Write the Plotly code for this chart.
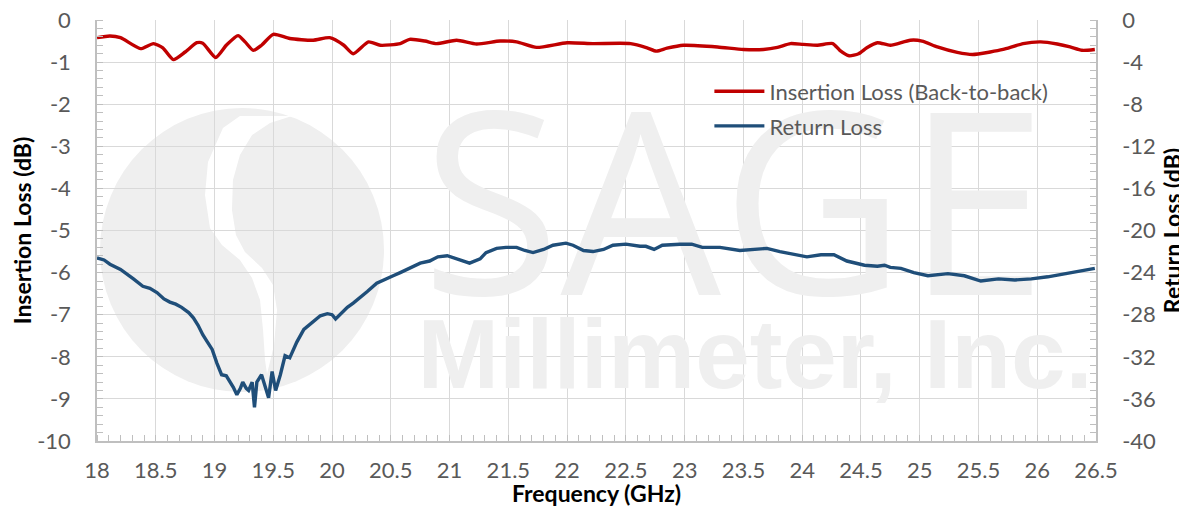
import plotly.graph_objects as go

# ---------------- data ----------------
il_freq = [18.00, 18.11, 18.20, 18.37, 18.48, 18.56, 18.65, 18.75, 18.85, 18.90,
           19.01, 19.10, 19.20, 19.26, 19.33, 19.40, 19.50, 19.64, 19.84, 19.98,
           20.10, 20.18, 20.31, 20.41, 20.58, 20.66, 20.79, 20.89, 21.06, 21.23,
           21.43, 21.57, 21.74, 22.00, 22.22, 22.54, 22.68, 22.76, 22.85, 22.99,
           23.28, 23.50, 23.67, 23.79, 23.90, 24.01, 24.13, 24.26, 24.32, 24.40,
           24.48, 24.55, 24.64, 24.75, 24.92, 25.02, 25.15, 25.32, 25.45, 25.60,
           25.71, 25.88, 26.03, 26.17, 26.28, 26.38, 26.49]
il_db = [-0.42, -0.38, -0.42, -0.68, -0.56, -0.66, -0.94, -0.76, -0.54, -0.55,
         -0.89, -0.60, -0.37, -0.52, -0.72, -0.60, -0.34, -0.44, -0.48, -0.42,
         -0.60, -0.80, -0.52, -0.60, -0.56, -0.46, -0.50, -0.56, -0.48, -0.57,
         -0.50, -0.52, -0.65, -0.54, -0.56, -0.56, -0.66, -0.74, -0.67, -0.60,
         -0.64, -0.70, -0.70, -0.65, -0.56, -0.58, -0.60, -0.56, -0.72, -0.85,
         -0.80, -0.66, -0.54, -0.60, -0.48, -0.50, -0.64, -0.77, -0.82, -0.76,
         -0.70, -0.56, -0.52, -0.57, -0.64, -0.72, -0.70]

rl_freq = [18.00, 18.06, 18.11, 18.20, 18.31, 18.39, 18.45, 18.51, 18.57, 18.62,
           18.67, 18.72, 18.78, 18.82, 18.86, 18.90, 18.94, 18.98, 19.02, 19.06,
           19.10, 19.13, 19.16, 19.19, 19.22, 19.24, 19.27, 19.29, 19.32, 19.34,
           19.36, 19.40, 19.43, 19.46, 19.49, 19.52, 19.56, 19.60, 19.64, 19.70,
           19.76, 19.80, 19.83, 19.90, 19.96, 20.00, 20.03, 20.08, 20.13, 20.18,
           20.24, 20.30, 20.38, 20.47, 20.52, 20.58, 20.64, 20.75, 20.83, 20.90,
           20.98, 21.09, 21.17, 21.26, 21.31, 21.40, 21.48, 21.57, 21.64, 21.71,
           21.80, 21.88, 21.99, 22.05, 22.14, 22.22, 22.31, 22.39, 22.50, 22.62,
           22.67, 22.74, 22.81, 22.96, 23.06, 23.15, 23.30, 23.47, 23.58, 23.70,
           23.81, 23.93, 24.04, 24.16, 24.27, 24.38, 24.53, 24.64, 24.70, 24.75,
           24.84, 24.95, 25.07, 25.24, 25.38, 25.52, 25.67, 25.81, 25.95, 26.09,
           26.24, 26.38, 26.49]
rl_db = [-22.6, -22.8, -23.2, -23.7, -24.6, -25.3, -25.5, -25.9, -26.5, -26.8,
         -27.0, -27.3, -27.8, -28.3, -29.0, -29.9, -30.6, -31.3, -32.6, -33.7,
         -33.8, -34.3, -34.9, -35.6, -35.0, -34.4, -35.0, -35.2, -34.4, -36.8,
         -34.4, -33.7, -34.8, -35.9, -33.4, -35.2, -33.7, -31.9, -32.1, -30.6,
         -29.4, -29.0, -28.8, -28.1, -27.9, -28.0, -28.4, -27.8, -27.3, -26.9,
         -26.4, -25.8, -25.0, -24.6, -24.3, -24.0, -23.7, -23.1, -22.9, -22.5,
         -22.4, -22.8, -23.1, -22.7, -22.1, -21.7, -21.6, -21.6, -21.9, -22.1,
         -21.8, -21.4, -21.2, -21.4, -21.9, -22.0, -21.8, -21.4, -21.3, -21.5,
         -21.5, -21.8, -21.4, -21.3, -21.3, -21.6, -21.6, -21.9, -21.8, -21.7,
         -22.0, -22.3, -22.5, -22.3, -22.3, -22.9, -23.3, -23.4, -23.3, -23.5,
         -23.6, -24.0, -24.3, -24.1, -24.3, -24.8, -24.6, -24.7, -24.6, -24.4,
         -24.1, -23.8, -23.6]

x_ticks = [18 + 0.5 * i for i in range(18)]
x_labels = [("%g" % v) for v in x_ticks]
y_ticks = [0, -1, -2, -3, -4, -5, -6, -7, -8, -9, -10]
y_labels = [str(v) for v in y_ticks]
y2_ticks = [0, -4, -8, -12, -16, -20, -24, -28, -32, -36, -40]
y2_labels = [str(v) for v in y2_ticks]
il_name = "Insertion Loss (Back-to-back)"
rl_name = "Return Loss"

# ---------------- figure ----------------
# the page body has an 8 px margin, so the figure is sized/offset to compensate
W, H = 1179, 499
ML, MT = 89, 12
PW, PH = 999, 421
MR, MB = W - ML - PW, H - MT - PH
OFF = 8

FONT = "Lato"
TICK_C = "#595959"
GRID_C = "#D9D9D9"
AX_C = "#BFBFBF"
WM_C = "#EFEFEF"
TS = 22   # tick / legend font size
AS = 23   # axis title size


def px2paper(px, py):
    # px, py: screen pixels of the reference picture
    return (px - OFF - ML) / PW, (MT + PH - (py - OFF)) / PH


fig = go.Figure()

# watermark text (drawn first so the curves lie on top)
fig.add_trace(go.Scatter(x=[23.42], y=[-5.02], mode="text", text=["SAGE"],
                         textfont=dict(family="Open Sans", size=254, color=WM_C, weight=400),
                         showlegend=False, hoverinfo="skip"))
fig.add_trace(go.Scatter(x=[23.6], y=[-8.17], mode="text", text=["Millimeter, Inc."],
                         textfont=dict(family="Liberation Sans", size=98, color=WM_C, weight="bold"),
                         showlegend=False, hoverinfo="skip"))

fig.add_trace(go.Scatter(x=il_freq, y=il_db, name=il_name, mode="lines",
                         line=dict(color="#C00000", width=3.4, shape="spline", smoothing=0.6),
                         legendgroup="a", yaxis="y"))
fig.add_trace(go.Scatter(x=rl_freq, y=rl_db, name=rl_name, mode="lines",
                         line=dict(color="#1F4E79", width=3.4), legendgroup="b",
                         yaxis="y2"))

# watermark logo (shapes below the grid)
cx0, cy0 = px2paper(100, 392)
cx1, cy1 = px2paper(384, 108)
shapes = [dict(type="circle", xref="paper", yref="paper", x0=cx0, y0=cy0, x1=cx1, y1=cy1,
               fillcolor=WM_C, line=dict(width=0), layer="below")]
band = [(240, 116), (223, 128), (208, 162), (205, 195), (210, 228), (222, 245), (240, 260),
        (252, 278), (260, 300), (263, 330), (265, 360), (267, 374),
        (274, 345), (277, 310), (273, 285), (262, 268), (245, 252), (236, 235),
        (232, 210), (233, 180), (240, 155), (252, 135), (270, 123), (292, 116)]
pts = [px2paper(a, b) for a, b in band]
path = "M " + " L ".join("%.4f,%.4f" % p for p in pts) + " Z"
shapes.append(dict(type="path", xref="paper", yref="paper", path=path,
                   fillcolor="white", line=dict(width=0), layer="below"))

fig.update_layout(
    width=W, height=H,
    margin=dict(l=ML, r=MR, t=MT, b=MB, pad=0, autoexpand=False),
    paper_bgcolor="white", plot_bgcolor="rgba(0,0,0,0)",
    font=dict(family=FONT, color=TICK_C, size=TS),
    shapes=shapes,
    showlegend=True,
    legend=dict(x=0.613, y=0.88, xanchor="left", yanchor="top",
                bgcolor="rgba(0,0,0,0)", font=dict(family=FONT, size=TS, color=TICK_C),
                traceorder="grouped", tracegroupgap=3, itemwidth=50),
    xaxis=dict(range=[18, 26.5], tickvals=x_ticks, ticktext=x_labels, automargin=False,
               showgrid=True, gridcolor=GRID_C, gridwidth=1.3,
               showline=True, linecolor=AX_C, linewidth=1.5, mirror=False,
               ticks="", tickfont=dict(size=TS, color=TICK_C), ticklabelstandoff=9,
               ticklabeloverflow="allow",
               minor=dict(dtick=0.1, ticks="inside", ticklen=6, tickcolor=AX_C, showgrid=False),
               title=dict(text="<b>Frequency (GHz)</b>", font=dict(size=AS, color="black"),
                          standoff=6),
               zeroline=False),
    yaxis=dict(range=[-10, 0], tickvals=y_ticks, ticktext=y_labels, automargin=False,
               showgrid=True, gridcolor=GRID_C, gridwidth=1.3,
               showline=True, linecolor=AX_C, linewidth=1.5,
               ticks="", tickfont=dict(size=TS, color=TICK_C), ticklabelstandoff=20,
               ticklabeloverflow="allow",
               minor=dict(dtick=0.2, ticks="inside", ticklen=6, tickcolor=AX_C, showgrid=False),
               title=dict(text="<b>Insertion Loss (dB)</b>", font=dict(size=AS, color="black"),
                          standoff=5),
               zeroline=False),
    yaxis2=dict(range=[-40, 0], tickvals=y2_ticks, ticktext=y2_labels, automargin=False,
                overlaying="y", side="right", showgrid=False,
                showline=True, linecolor=AX_C, linewidth=1.5,
                ticks="", tickfont=dict(size=TS, color=TICK_C), ticklabelstandoff=20,
                ticklabeloverflow="allow",
                minor=dict(dtick=0.8, ticks="inside", ticklen=6, tickcolor=AX_C, showgrid=False),
                title=dict(text="<b>Return Loss (dB)</b>", font=dict(size=AS, color="black"),
                           standoff=10),
                zeroline=False),
)

fig.write_html("out.html")
